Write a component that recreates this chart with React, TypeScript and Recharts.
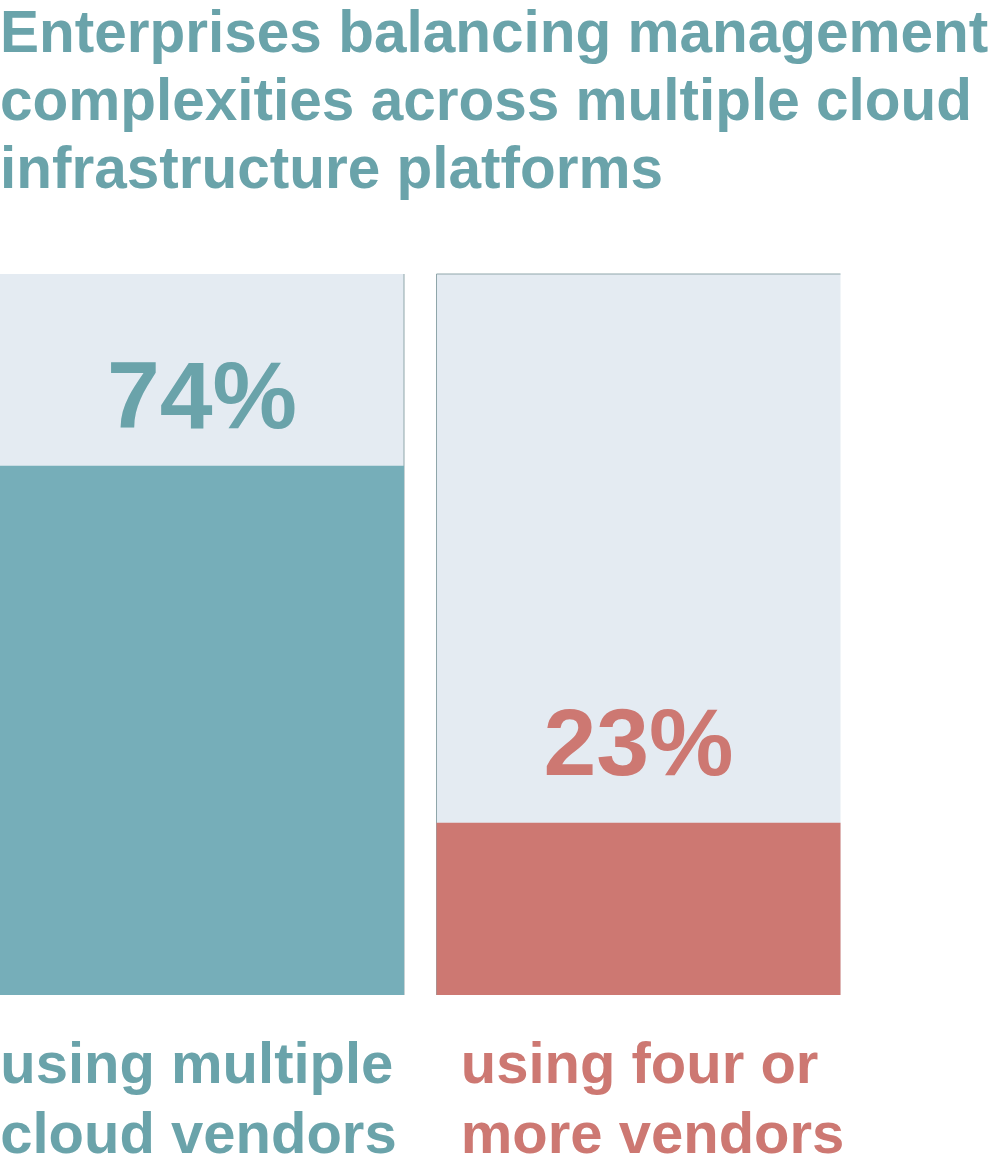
import React from 'react';
import { BarChart, Bar, XAxis, YAxis, Cell, LabelList } from 'recharts';

const categories = ['using multiple cloud vendors', 'using four or more vendors'];
const labelLines = [
  ['using multiple', 'cloud vendors'],
  ['using four or', 'more vendors'],
];
const values = [73.4, 23.9];
const valueLabels = ['74%', '23%'];
const barColors = ['#76AEB9', '#CD7872'];
const textColors = ['#6AA3AA', '#CD7872'];
const titleLines = [
  'Enterprises balancing management',
  'complexities across multiple cloud',
  'infrastructure platforms',
];

const data = categories.map((c, i) => ({ name: c, value: values[i], idx: i }));

const FONT = '"Liberation Sans", Arial, sans-serif';

const BgShape = (props: any) => {
  const { x, y, width, height, index } = props;
  const edge = '#8FA6AA';
  return (
    <g>
      <rect x={x} y={y} width={width} height={height} fill="#E4EBF2" />
      {index === 0 ? (
        <line x1={x + width} y1={y} x2={x + width} y2={y + height} stroke={edge} strokeWidth={1} />
      ) : (
        <>
          <line x1={x} y1={y} x2={x + width} y2={y} stroke={edge} strokeWidth={1} />
          <line x1={x} y1={y} x2={x} y2={y + height} stroke={edge} strokeWidth={1} />
        </>
      )}
    </g>
  );
};

const ValueLabel = (props: any) => {
  const { x, y, width, index } = props;
  const off = index === 0 ? 38 : 48;
  return (
    <text
      x={x + width / 2}
      y={y - off}
      textAnchor="middle"
      fill={textColors[index]}
      fontFamily={FONT}
      fontWeight="bold"
      fontSize={95}
    >
      {valueLabels[index]}
    </text>
  );
};

const Tick = (props: any) => {
  const { x, y, index } = props;
  const left = index === 0 ? x - 202 : x - 178;
  return (
    <g>
      {labelLines[index].map((ln, i) => (
        <text
          key={i}
          x={left}
          y={y + 80 + i * 70}
          textAnchor="start"
          fill={textColors[index]}
          fontFamily={FONT}
          fontWeight="bold"
          fontSize={58}
        >
          {ln}
        </text>
      ))}
    </g>
  );
};

export default function App() {
  return (
    <div style={{ position: 'absolute', left: 0, top: 0, width: 1002, height: 1175, overflow: 'hidden', background: '#fff' }}>
      <div
        style={{
          position: 'absolute',
          left: 0,
          top: -2,
          fontFamily: FONT,
          fontWeight: 'bold',
          fontSize: 58.5,
          lineHeight: '68px',
          color: '#6AA3AA',
          whiteSpace: 'nowrap',
        }}
      >
        {titleLines.map((t, i) => (
          <div key={i}>{t}</div>
        ))}
      </div>
      <div style={{ position: 'absolute', left: -16, top: 0 }}>
        <BarChart
          width={1018}
          height={1175}
          data={data}
          margin={{ top: 274, right: 145, bottom: 0, left: 0 }}
          barSize={404}
        >
          <XAxis
            dataKey="name"
            axisLine={false}
            tickLine={false}
            tick={<Tick />}
            interval={0}
            height={180}
          />
          <YAxis hide domain={[0, 100]} />
          <Bar dataKey="value" isAnimationActive={false} background={<BgShape />}>
            {data.map((d, i) => (
              <Cell key={i} fill={barColors[i]} />
            ))}
            <LabelList dataKey="value" content={<ValueLabel />} />
          </Bar>
        </BarChart>
      </div>
    </div>
  );
}
